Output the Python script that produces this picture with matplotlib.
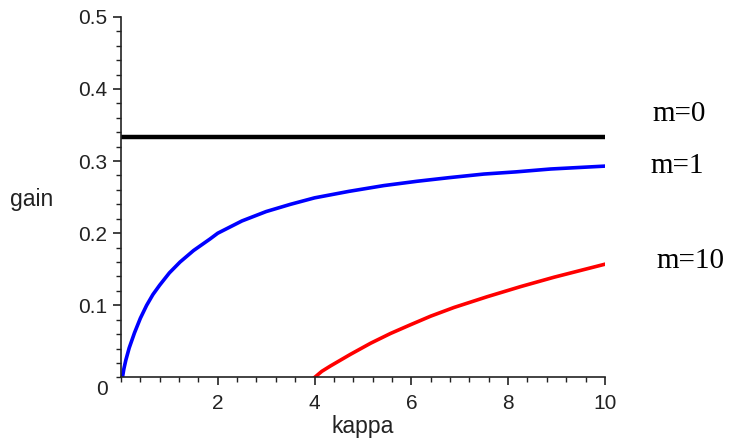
# Imports
import matplotlib
matplotlib.use('Agg')
import matplotlib.pyplot as plt
from matplotlib.ticker import MultipleLocator

# data
kappa_m0 = [0.0, 10.0]
gain_m0 = [0.3333, 0.3333]

kappa_m1 = [0.03, 0.06, 0.10, 0.17, 0.28, 0.40, 0.53, 0.66, 0.80, 1.00, 1.22, 1.50, 1.84,
            2.00, 2.50, 3.00, 3.50, 4.00, 4.71, 5.43, 6.12, 6.78, 7.50, 8.16, 8.88, 10.0]
gain_m1 = [0.0, 0.012, 0.024, 0.041, 0.062, 0.082, 0.100, 0.115, 0.128, 0.145, 0.160, 0.176,
           0.192, 0.200, 0.217, 0.230, 0.240, 0.249, 0.258, 0.266, 0.272, 0.277, 0.282,
           0.285, 0.289, 0.293]

kappa_m10 = [4.00, 4.15, 4.33, 4.74, 5.16, 5.57, 5.98, 6.40, 6.88, 7.57, 8.26, 8.95, 10.0]
gain_m10 = [0.0, 0.0085, 0.016, 0.032, 0.0475, 0.061, 0.073, 0.085, 0.097, 0.112, 0.126,
            0.139, 0.157]

curve_labels = ['m=0', 'm=1', 'm=10']
label_pos = [(10.98, 0.365), (10.95, 0.293), (11.06, 0.162)]

xticks = [2, 4, 6, 8, 10]
yticks = [0.1, 0.2, 0.3, 0.4, 0.5]

plt.rcParams['font.family'] = ['Liberation Sans', 'DejaVu Sans']
txt_col = '#222222'

fig = plt.figure(figsize=(7.31, 4.42), dpi=100)
ax = fig.add_axes([0.1655, 0.146, 0.662, 0.816])

ax.plot(kappa_m0, gain_m0, color='black', lw=3.2)
ax.plot(kappa_m1, gain_m1, color='#0000ff', lw=2.6)
ax.plot(kappa_m10, gain_m10, color='#ff0000', lw=2.6)

ax.set_xlim(0, 10)
ax.set_ylim(0, 0.5)

# maple style axes
for s in ['top', 'right']:
    ax.spines[s].set_visible(False)
for s in ['left', 'bottom']:
    ax.spines[s].set_linewidth(1.2)
    ax.spines[s].set_color(txt_col)

ax.set_xticks(xticks)
ax.set_xticklabels([str(t) for t in xticks])
ax.set_yticks(yticks)
ax.set_yticklabels([str(t) for t in yticks])
ax.xaxis.set_minor_locator(MultipleLocator(0.4))
ax.yaxis.set_minor_locator(MultipleLocator(0.02))
ax.tick_params(which='major', length=6, width=1.2, labelsize=15, colors=txt_col)
ax.tick_params(axis='x', which='major', pad=6)
ax.tick_params(axis='y', which='major', pad=4)
ax.tick_params(which='minor', length=3.5, width=1.0, colors=txt_col)

# shared origin label
ax.annotate('0', xy=(0, 0), xytext=(-19, -12), textcoords='offset pixels',
            ha='center', va='center', fontsize=15, color=txt_col)

ax.set_xlabel('kappa', fontsize=16.5, color=txt_col, labelpad=1)
fig.text(10 / 731, 1 - 200 / 442, 'gain', fontsize=16.5, color=txt_col, ha='left', va='center')

for lab, (x, y) in zip(curve_labels, label_pos):
    ax.text(x, y, lab, fontsize=21, family='Liberation Serif', ha='left', va='center', clip_on=False)

fig.savefig('out.png', dpi=100)
plt.close()
